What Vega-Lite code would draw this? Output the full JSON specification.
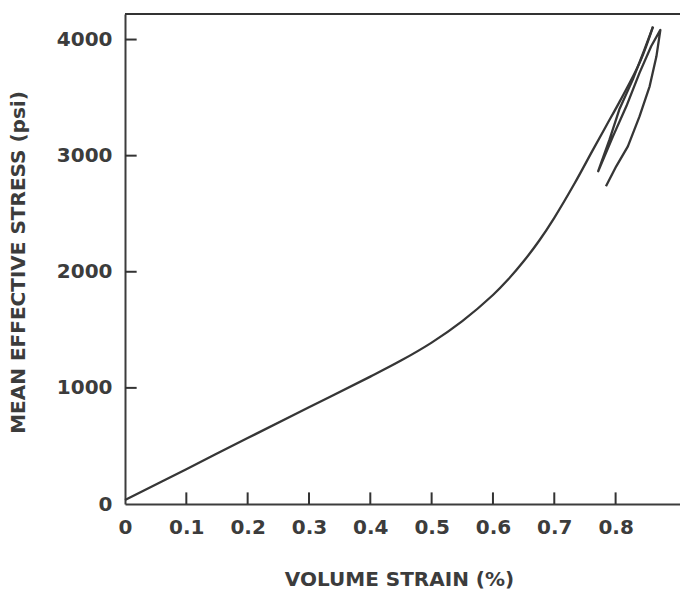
{
  "$schema": "https://vega.github.io/schema/vega-lite/v6.json",
  "autosize": "none",
  "width": 555,
  "height": 490,
  "padding": {"left": 125, "top": 14, "right": 0, "bottom": 88},
  "background": "white",
  "config": {
    "view": {"stroke": null},
    "axis": {
      "labelFont": "DejaVu Sans",
      "labelFontWeight": "bold",
      "labelFontSize": 20,
      "labelColor": "#3c3c3c",
      "titleFont": "DejaVu Sans",
      "titleFontWeight": "bold",
      "titleFontSize": 20,
      "titleColor": "#3c3c3c",
      "domainColor": "#3c3c3c",
      "domainWidth": 2,
      "ticks": false,
      "grid": false
    }
  },
  "datasets": {
    "curve": [
      {"i": 1, "s": 0.0, "p": 34},
      {"i": 2, "s": 0.1, "p": 300},
      {"i": 3, "s": 0.2, "p": 568},
      {"i": 4, "s": 0.3, "p": 833},
      {"i": 5, "s": 0.4, "p": 1097},
      {"i": 6, "s": 0.45, "p": 1235},
      {"i": 7, "s": 0.5, "p": 1390},
      {"i": 8, "s": 0.55, "p": 1575},
      {"i": 9, "s": 0.6, "p": 1800},
      {"i": 10, "s": 0.625, "p": 1935},
      {"i": 11, "s": 0.65, "p": 2090},
      {"i": 12, "s": 0.675, "p": 2265},
      {"i": 13, "s": 0.7, "p": 2465},
      {"i": 14, "s": 0.733, "p": 2760},
      {"i": 15, "s": 0.763, "p": 3050},
      {"i": 16, "s": 0.785, "p": 3260},
      {"i": 17, "s": 0.807, "p": 3470},
      {"i": 18, "s": 0.84, "p": 3810},
      {"i": 19, "s": 0.861, "p": 4111},
      {"i": 20, "s": 0.847, "p": 3914},
      {"i": 21, "s": 0.828, "p": 3655},
      {"i": 22, "s": 0.806, "p": 3397},
      {"i": 23, "s": 0.79, "p": 3138},
      {"i": 24, "s": 0.7716, "p": 2866},
      {"i": 25, "s": 0.7957, "p": 3166},
      {"i": 26, "s": 0.8175, "p": 3425},
      {"i": 27, "s": 0.839, "p": 3713},
      {"i": 28, "s": 0.858, "p": 3942},
      {"i": 29, "s": 0.873, "p": 4083},
      {"i": 30, "s": 0.8665, "p": 3853},
      {"i": 31, "s": 0.8555, "p": 3597},
      {"i": 32, "s": 0.839, "p": 3338},
      {"i": 33, "s": 0.82, "p": 3080},
      {"i": 34, "s": 0.801, "p": 2908},
      {"i": 35, "s": 0.7843, "p": 2737}
    ],
    "ticks": [
      {"x": 0.1, "x2": 0.1, "y": 0, "y2": 100},
      {"x": 0.2, "x2": 0.2, "y": 0, "y2": 100},
      {"x": 0.3, "x2": 0.3, "y": 0, "y2": 100},
      {"x": 0.4, "x2": 0.4, "y": 0, "y2": 100},
      {"x": 0.5, "x2": 0.5, "y": 0, "y2": 100},
      {"x": 0.6, "x2": 0.6, "y": 0, "y2": 100},
      {"x": 0.7, "x2": 0.7, "y": 0, "y2": 100},
      {"x": 0.8, "x2": 0.8, "y": 0, "y2": 100},
      {"x": 0, "x2": 0.019, "y": 1000, "y2": 1000},
      {"x": 0, "x2": 0.019, "y": 2000, "y2": 2000},
      {"x": 0, "x2": 0.019, "y": 3000, "y2": 3000},
      {"x": 0, "x2": 0.019, "y": 4000, "y2": 4000},
      {"x": 0, "x2": 0.905, "y": 4220, "y2": 4220}
    ]
  },
  "layer": [
    {
      "data": {"name": "curve"},
      "transform": [{"filter": "datum.i <= 19"}],
      "mark": {"type": "line", "color": "#363636", "strokeWidth": 2.3, "interpolate": "catmull-rom", "strokeJoin": "round"},
      "encoding": {
        "order": {"field": "i", "type": "quantitative"},
        "x": {
          "field": "s", "type": "quantitative",
          "scale": {"domain": [0, 0.905], "nice": false},
          "axis": {
            "values": [0, 0.1, 0.2, 0.3, 0.4, 0.5, 0.6, 0.7, 0.8],
            "labelExpr": "datum.value == 0 ? '0' : format(datum.value, '.1f')",
            "labelPadding": 13,
            "labelFlush": false,
            "title": "VOLUME STRAIN (%)",
            "titleX": 274,
            "titleY": 65,
            "titleAnchor": "middle"
          }
        },
        "y": {
          "field": "p", "type": "quantitative",
          "scale": {"domain": [0, 4220], "nice": false},
          "axis": {
            "values": [0, 1000, 2000, 3000, 4000],
            "format": "d",
            "labelPadding": 13,
            "labelFlush": false,
            "title": "MEAN EFFECTIVE STRESS (psi)",
            "titleX": -97,
            "titleY": 248,
            "titleAnchor": "middle"
          }
        }
      }
    },
    {
      "data": {"name": "curve"},
      "transform": [{"filter": "datum.i >= 19"}],
      "mark": {"type": "line", "color": "#363636", "strokeWidth": 2.3, "interpolate": "linear", "strokeJoin": "round"},
      "encoding": {
        "order": {"field": "i", "type": "quantitative"},
        "x": {"field": "s", "type": "quantitative"},
        "y": {"field": "p", "type": "quantitative"}
      }
    },
    {
      "data": {"name": "ticks"},
      "mark": {"type": "rule", "color": "#333333", "strokeWidth": 2},
      "encoding": {
        "x": {"field": "x", "type": "quantitative"},
        "x2": {"field": "x2"},
        "y": {"field": "y", "type": "quantitative"},
        "y2": {"field": "y2"}
      }
    }
  ]
}
